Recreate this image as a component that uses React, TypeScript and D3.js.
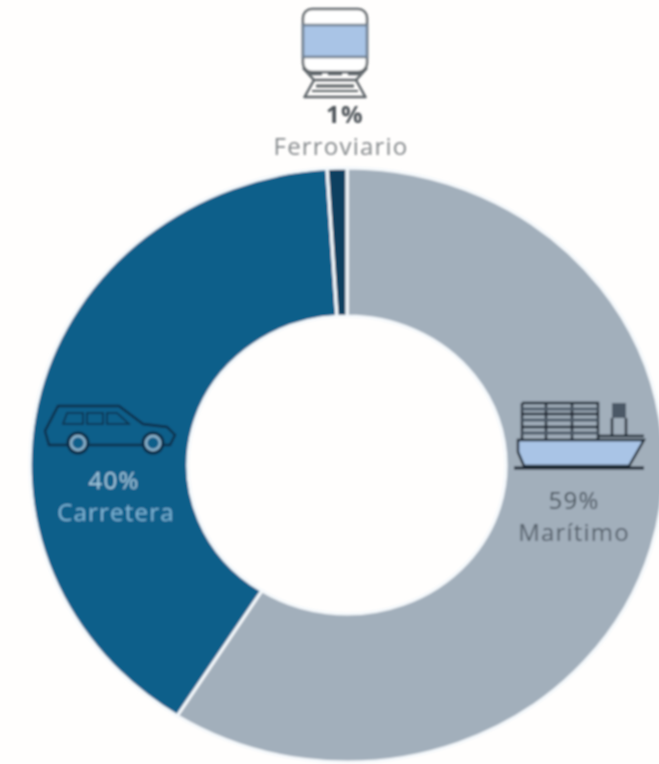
import React from 'react'
import * as d3 from 'd3'

const categories = ['Marítimo', 'Carretera', 'Ferroviario']
const shares = [59, 40, 1]
const colors = ['#a2afbb', '#105f8a', '#0c3f60']

const width = 659
const height = 764
const cx = 347
const cy = 465
// the picture is stretched a bit wider than tall
const scaleX = 1.067
const scaleY = 1
const outerRadius = 297
const innerRadius = 149

const pie = d3.pie<number>().sort(null).value((d) => d)
const arc = d3.arc<d3.PieArcDatum<number>>().innerRadius(innerRadius).outerRadius(outerRadius)

const font = '"Open Sans", "Noto Sans", sans-serif'
const iconFill = '#a9c4e6'

function Train() {
  return (
    <g transform="translate(302,8)" fill="none" stroke="#5d6367" strokeWidth={2.5}>
      <rect x={1} y={1} width={64} height={63} rx={9} fill="#fff" />
      <rect x={1} y={17} width={64} height={32} fill={iconFill} stroke="#6f7f90" />
      <path d="M1,60 L12,72 H54 L65,60" />
      <path d="M8,66 H20 M26,66 H40 M46,66 H58" />
      <path d="M14,78 H52" strokeWidth={3} />
      <path d="M12,72 L2,90 M54,72 L64,90 M2,89 H64" />
      <path d="M10,83 H56" strokeWidth={2} />
    </g>
  )
}

function Ship() {
  return (
    <g transform="translate(514,400)" fill="none" stroke="#17232f" strokeWidth={2.4}>
      <path d="M4,40 H130 L115,66 H10 L4,52 Z" fill={iconFill} />
      <path d="M8,3 H84 V40 M8,3 V40 M8,14 H84 M8,27 H84 M32,3 V40 M58,3 V40" />
      <path d="M8,9 H84 M8,20 H84 M8,33 H84" stroke="#4b5866" strokeWidth={3} />
      <rect x={98} y={3} width={14} height={15} fill="#4b5866" stroke="none" />
      <path d="M98,18 V36 M112,18 V36 M84,36 H130" />
      <path d="M0,68 H130" strokeWidth={3} />
    </g>
  )
}

function Car() {
  return (
    <g transform="translate(45,405)" fill="none" stroke="#0b2f49" strokeWidth={2.4}>
      <path d="M13,1 H74 L98,19 L122,22 L130,30 L125,40 H4 L0,26 Z" />
      <path d="M22,8 H38 V19 H18 Z M42,8 H58 V19 H42 Z M62,8 H72 L84,19 H62 Z" strokeWidth={1.6} />
      <circle cx={33} cy={38} r={10} fill="#105f8a" stroke="#0b2f49" strokeWidth={3} />
      <circle cx={33} cy={38} r={7} stroke="#8fb4cc" strokeWidth={2.5} />
      <circle cx={108} cy={38} r={10} fill="#105f8a" stroke="#0b2f49" strokeWidth={3} />
      <circle cx={108} cy={38} r={7} stroke="#8fb4cc" strokeWidth={2.5} />
    </g>
  )
}

export default function App() {
  const slices = pie(shares)
  return (
    <svg
      width={width}
      height={height}
      style={{ position: 'absolute', left: 0, top: 0, background: '#fffefd' }}
    >
      <defs>
        <filter id="soft" x="-5%" y="-5%" width="110%" height="110%">
          <feGaussianBlur stdDeviation={1.2} />
        </filter>
      </defs>
      <g filter="url(#soft)">
        <g transform={`translate(${cx},${cy}) scale(${scaleX},${scaleY})`}>
          {slices.map((d, i) => (
            <path key={categories[i]} d={arc(d) || ''} fill={colors[i]} stroke="#f4f8fb" strokeWidth={3} />
          ))}
        </g>
        <Train />
        <Ship />
        <Car />
        <g fontFamily={font} textAnchor="middle" fontSize={24} letterSpacing={1.2}>
          <text x={345} y={123} fontWeight={700} fill="#4d5358">{shares[2]}%</text>
          <text x={341} y={155} fill="#85898c">{categories[2]}</text>
          <text x={574} y={509} fill="#47525c">{shares[0]}%</text>
          <text x={574} y={541} fill="#525d68">{categories[0]}</text>
          <text x={114} y={489} fill="#a5c9de">{shares[1]}%</text>
          <text x={116} y={521} fill="#7fb6d6">{categories[1]}</text>
        </g>
      </g>
    </svg>
  )
}
